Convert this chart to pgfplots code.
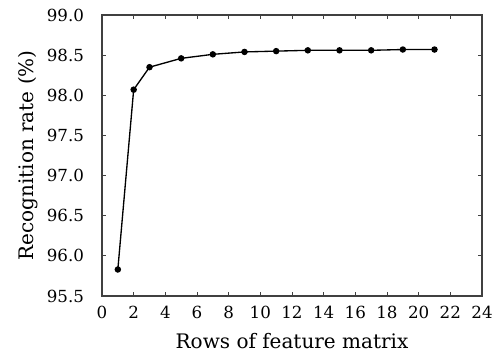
\documentclass[border=0pt]{standalone}
\usepackage{pgfplots}
\pgfplotsset{compat=1.18}
\usepackage{fontspec}
\setmainfont{DejaVu Serif}
\usetikzlibrary{calc}
\begin{document}
\begin{tikzpicture}
\begin{axis}[
  name=ax,
  scale only axis,
  width=285pt, height=210.75pt,
  xmin=0, xmax=24, ymin=95.5, ymax=99.0,
  xtick={0,2,...,24},
  ytick={95.5,96,...,99},
  tick align=inside,
  major tick length=3pt,
  /pgf/number format/assume math mode=true,
  yticklabel style={/pgf/number format/fixed,/pgf/number format/fixed zerofill,/pgf/number format/precision=1, xshift=-10pt},
  xticklabel style={yshift=-4pt},
  ticklabel style={font=\fontsize{12.5}{14}\selectfont},
  label style={font=\fontsize{15}{17}\selectfont},
  xlabel={Rows of feature matrix},
  ylabel={Recognition rate (\%)},
  xlabel style={yshift=-4pt},
  ylabel style={yshift=0pt},
  axis line style={line width=0.8pt, black!75},
  every tick/.style={black!75, line width=0.6pt},
]
\addplot[black, line width=1pt, mark=*, mark size=1.9pt] coordinates {
(1,95.83) (2,98.07) (3,98.35) (5,98.46) (7,98.51) (9,98.54) (11,98.55) (13,98.56) (15,98.56) (17,98.56) (19,98.57) (21,98.57)
};
\end{axis}
\pgfresetboundingbox
\path ($(ax.south west)+(-76.5pt,-45pt)$) rectangle ($(ax.north east)+(10.5pt,11.25pt)$);
\end{tikzpicture}
\end{document}
